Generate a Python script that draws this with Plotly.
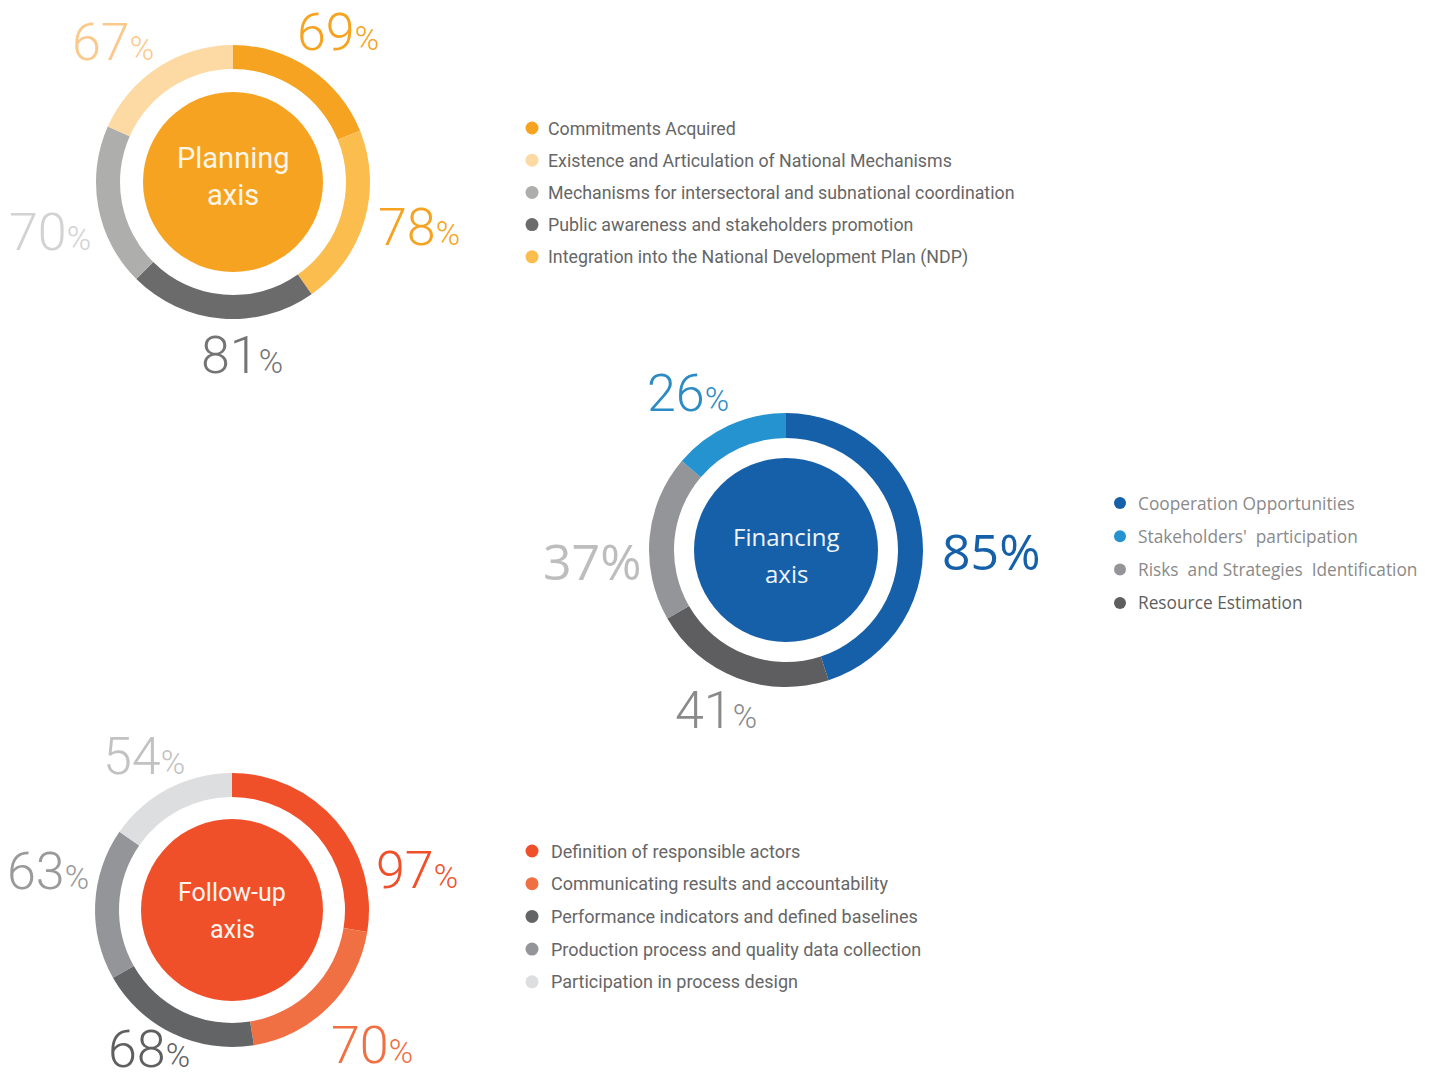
import plotly.graph_objects as go

W, H = 1432, 1082

# ---- data ----
planning_items = [
    "Commitments Acquired",
    "Integration into the National Development Plan (NDP)",
    "Public awareness and stakeholders promotion",
    "Mechanisms for intersectoral and subnational coordination",
    "Existence and Articulation of National Mechanisms",
]
planning_values = [69, 78, 81, 70, 67]
planning_legend_order = [0, 4, 3, 2, 1]

financing_items = [
    "Cooperation Opportunities",
    "Resource Estimation",
    "Risks  and Strategies  Identification",
    "Stakeholders'  participation",
]
financing_values = [85, 41, 37, 26]
financing_legend_order = [0, 3, 2, 1]

followup_items = [
    "Definition of responsible actors",
    "Communicating results and accountability",
    "Performance indicators and defined baselines",
    "Production process and quality data collection",
    "Participation in process design",
]
followup_values = [97, 70, 68, 63, 54]
followup_legend_order = [0, 1, 2, 3, 4]

# ---- styling ----
planning_colors = ["#F5A320", "#FBBD4E", "#6B6B6B", "#AEAEAC", "#FDD9A4"]
planning_label_colors = ["#F5A320", "#F5A320", "#747474", "#D2D2D2", "#FBC98C"]
financing_colors = ["#1660AA", "#5E5E61", "#949598", "#2493D0"]
financing_label_colors = ["#1660AA", "#8A8A8A", "#BDBDBD", "#2D8BC4"]
followup_colors = ["#EF5029", "#F07044", "#636466", "#939598", "#DDDEE0"]
followup_label_colors = ["#EF5029", "#F07044", "#5F5F5F", "#9A9A9A", "#C2C2C2"]

# label positions follow each chart's value order
charts = [
    dict(name="Planning", lines=["Planning", "axis"], cx=233, cy=182, R=137, r_in=113, r_disc=90,
         values=planning_values, colors=planning_colors, lcolors=planning_label_colors,
         disc="#F5A320",
         label_pos=[(338, 32), (419, 227), (242, 356), (50, 232), (113, 43)],
         label_style=["thin"] * 5,
         center_font=dict(family="Roboto, sans-serif", size=29, color="#FFF6E8"),
         center_y=[158, 195]),
    dict(name="Financing", lines=["Financing", "axis"], cx=786, cy=550, R=137, r_in=112, r_disc=92,
         values=financing_values, colors=financing_colors, lcolors=financing_label_colors,
         disc="#1660AA",
         label_pos=[(991, 551), (716, 710), (592, 561), (688, 394)],
         label_style=["open", "thin", "open", "thin"],
         center_font=dict(family="Open Sans, sans-serif", size=24, color="#EEF4FA"),
         center_y=[536, 573]),
    dict(name="Follow-up", lines=["Follow-up", "axis"], cx=232, cy=910, R=137, r_in=113, r_disc=91,
         values=followup_values, colors=followup_colors, lcolors=followup_label_colors,
         disc="#EF5029",
         label_pos=[(417, 870), (372, 1045), (149, 1049), (48, 871), (144, 756)],
         label_style=["thin"] * 5,
         center_font=dict(family="Roboto, sans-serif", size=25, color="#FFF3EE"),
         center_y=[892, 929]),
]


def px_x(x):
    return x / W


def px_y(y):
    return 1 - y / H


fig = go.Figure()
annotations = []

for c in charts:
    cx, cy, R = c["cx"], c["cy"], c["R"]
    # ring
    fig.add_trace(go.Pie(
        values=c["values"], labels=[f"{c['name']} {i}" for i in range(len(c["values"]))],
        sort=False, direction="clockwise", rotation=0,
        hole=c["r_in"] / R, marker=dict(colors=c["colors"], line=dict(width=0)),
        textinfo="none", hoverinfo="skip", showlegend=False,
        domain=dict(x=[px_x(cx - R), px_x(cx + R)], y=[px_y(cy + R), px_y(cy - R)]),
    ))
    # centre disc
    rd = c["r_disc"]
    fig.add_trace(go.Pie(
        values=[1], labels=[c["name"]], sort=False,
        marker=dict(colors=[c["disc"]], line=dict(width=0)),
        textinfo="none", hoverinfo="skip", showlegend=False,
        domain=dict(x=[px_x(cx - rd), px_x(cx + rd)], y=[px_y(cy + rd), px_y(cy - rd)]),
    ))
    for line, ly in zip(c["lines"], c["center_y"]):
        annotations.append(dict(x=px_x(cx), y=px_y(ly), xref="paper", yref="paper",
                                text=line, showarrow=False, xanchor="center", yanchor="middle",
                                font=c["center_font"]))
    # value labels
    for v, col, (lx, ly), st in zip(c["values"], c["lcolors"], c["label_pos"], c["label_style"]):
        if st == "thin":
            txt = f"{v}<span style='font-size:33px'>%</span>"
            font = dict(family="Roboto, sans-serif", size=52, color=col, weight=300)
        else:
            txt = f"{v}%"
            font = dict(family="Open Sans, sans-serif", size=50, color=col, weight=400)
        annotations.append(dict(x=px_x(lx), y=px_y(ly), xref="paper", yref="paper",
                                text=txt, showarrow=False, xanchor="center", yanchor="middle",
                                font=font))

# ---- legends ----
legends = [
    dict(items=planning_items, order=planning_legend_order, colors=planning_colors,
         bx=532, tx=546, y0=128, dy=32.2, size=13,
         font=dict(family="Roboto, sans-serif", size=17.8, color="#666666"),
         tcolors=None),
    dict(items=financing_items, order=financing_legend_order, colors=financing_colors,
         bx=1120, tx=1136, y0=503, dy=33.3, size=12,
         font=dict(family="Open Sans, sans-serif", size=17.3, color="#8A8A8A"),
         tcolors=["#8A8A8A", "#8A8A8A", "#8A8A8A", "#5E5E5E"]),
    dict(items=followup_items, order=followup_legend_order, colors=followup_colors,
         bx=532, tx=549, y0=851, dy=32.7, size=13,
         font=dict(family="Roboto, sans-serif", size=18, color="#666666"),
         tcolors=None),
]

for lg in legends:
    xs, ys, cols = [], [], []
    for row, idx in enumerate(lg["order"]):
        y = lg["y0"] + row * lg["dy"]
        xs.append(lg["bx"])
        ys.append(y)
        cols.append(lg["colors"][idx])
        f = dict(lg["font"])
        if lg["tcolors"]:
            f["color"] = lg["tcolors"][row]
        annotations.append(dict(x=lg["tx"], y=y, xref="x", yref="y", text=lg["items"][idx],
                                showarrow=False, xanchor="left", yanchor="middle", font=f))
    fig.add_trace(go.Scatter(x=xs, y=ys, mode="markers", hoverinfo="skip", showlegend=False,
                             marker=dict(size=lg["size"], color=cols, line=dict(width=0))))

fig.update_layout(
    width=W, height=H,
    margin=dict(l=0, r=0, t=0, b=0),
    paper_bgcolor="white", plot_bgcolor="rgba(0,0,0,0)",
    xaxis=dict(range=[0, W], visible=False, domain=[0, 1], fixedrange=True),
    yaxis=dict(range=[H, 0], visible=False, domain=[0, 1], fixedrange=True),
    annotations=annotations,
    showlegend=False,
)

fig.write_html("out.html")
